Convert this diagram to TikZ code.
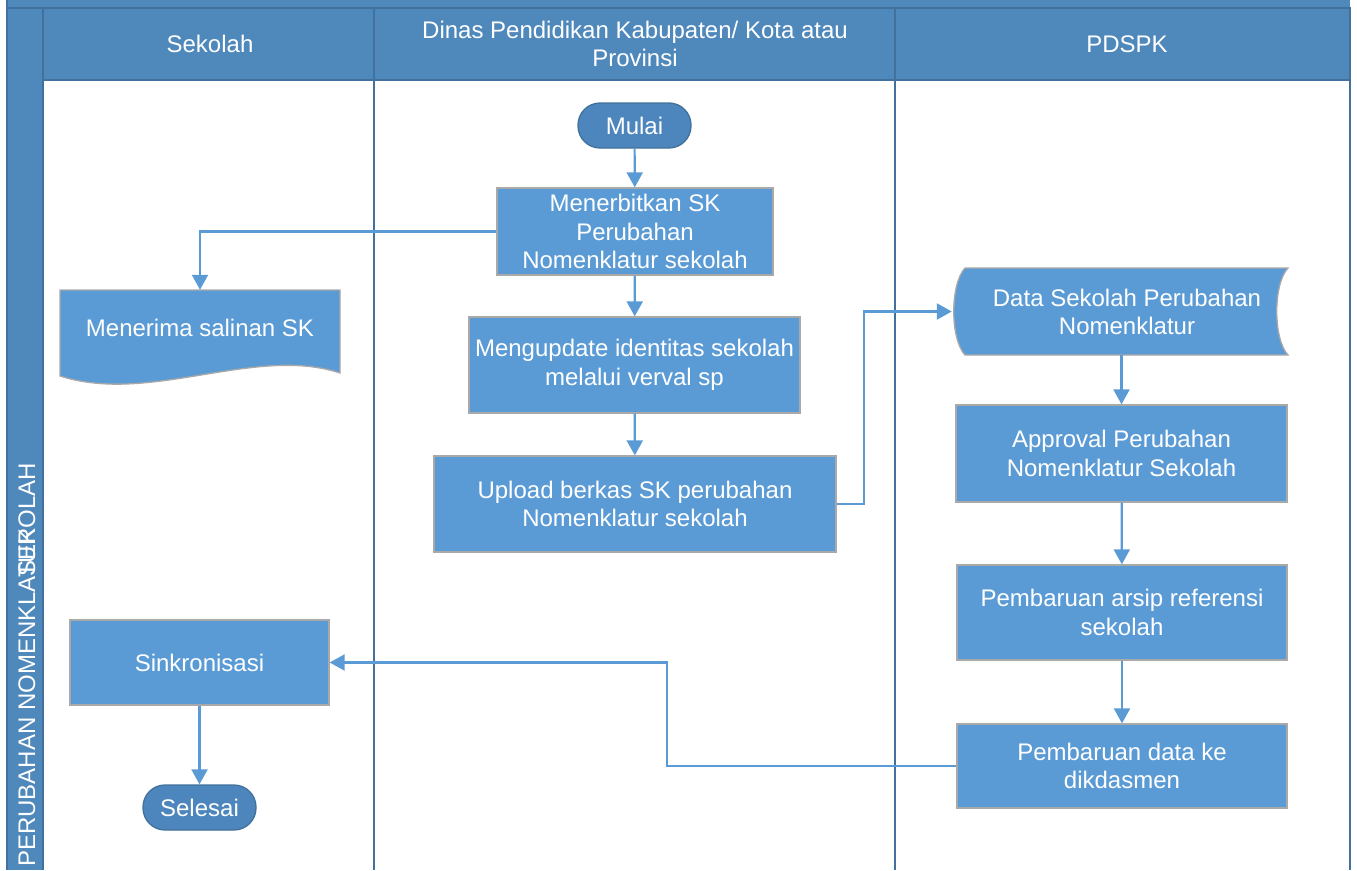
\documentclass[tikz,border=0pt]{standalone}
\usepackage{fontspec}
\setmainfont{Liberation Sans}
\usetikzlibrary{arrows.meta,calc}

\definecolor{hdr}{HTML}{4F88BB}
\definecolor{laneline}{HTML}{41719C}
\definecolor{boxfill}{HTML}{5B9BD5}
\definecolor{boxedge}{HTML}{A9A9A9}
\definecolor{termfill}{HTML}{4D86BD}
\definecolor{flow}{HTML}{5B9BD5}

\tikzset{
  txt/.style={font=\fontsize{24}{28.5}\selectfont, text=white, align=center},
  stepbox/.style={txt, draw=boxedge, line width=1.3pt, fill=boxfill, inner sep=0pt},
  term/.style={txt, draw=laneline, line width=1.3pt, fill=termfill, rounded corners=22pt,
    minimum width=113, minimum height=45, inner sep=0pt},
  shapebox/.style={draw=boxedge, line width=1.3pt, fill=boxfill},
  frame/.style={inner sep=0pt, minimum width=#1},
  lane/.style={draw=laneline, line width=2pt},
  conn/.style={draw=flow, line width=2.2pt, -{Triangle[length=15pt,width=16pt]}},
}

\begin{document}
\begin{tikzpicture}[x=1pt, y=-1pt]
\useasboundingbox (0,0) rectangle (1357,870);

% pool frame: top strip, left title strip, lane headers
\fill[hdr] (7,0) rectangle (1350,8);
\fill[hdr] (7,0) rectangle (43,870);
\draw[laneline, line width=1.5pt, fill=hdr] (43,8) rectangle (1350,80);
\draw[laneline, line width=1.2pt] (7,0) -- (7,870);
\draw[laneline, line width=1.2pt] (7,8) -- (1350,8);

% lane separators
\draw[lane] (43,8) -- (43,870);
\draw[lane] (374,8) -- (374,870);
\draw[lane] (895,8) -- (895,870);
\draw[lane] (1350,8) -- (1350,870);

% lane titles
\node[txt] (hsekolah) at (210,44) {Sekolah};
\node[txt] (hdinas) at (635,44) {Dinas Pendidikan Kabupaten/ Kota atau\\Provinsi};
\node[txt] (hpdspk) at (1127,44) {PDSPK};

% pool title (two overlapping runs)
\node[txt, rotate=90, anchor=base west, inner sep=0pt] (ptitle1) at (35,867) {PERUBAHAN NOMENKLATUR};
\node[txt, rotate=90, anchor=base east, inner sep=0pt] (ptitle2) at (35,463) {SEKOLAH};

% Dinas lane
\node[term] (mulai) at (634.5,125.5) {Mulai};
\node[stepbox, minimum width=276, minimum height=87] (terbit) at (635,231.5)
  {Menerbitkan SK\\Perubahan\\Nomenklatur sekolah};
\node[stepbox, minimum width=331, minimum height=96] (update) at (634.5,365)
  {Mengupdate identitas sekolah\\melalui verval sp};
\node[stepbox, minimum width=402, minimum height=96] (upload) at (635,504)
  {Upload berkas SK perubahan\\Nomenklatur sekolah};

% Sekolah lane: document shape
\draw[shapebox] (60,290) -- (340,290) -- (340,373)
  .. controls (255,345) and (150,405) .. (60,376) -- cycle;
\node[frame=280, minimum height=95] (terima) at (200,337.5) {};
\node[txt] (terimatext) at (200,328) {Menerima salinan SK};
\node[stepbox, minimum width=259, minimum height=85] (sinkron) at (199.5,662.5) {Sinkronisasi};
\node[term] (selesai) at (199.5,807.5) {Selesai};

% PDSPK lane: stored data shape
\draw[shapebox] (965,268) -- (1288,268)
  .. controls (1273,284) and (1273,339) .. (1288,355) -- (965,355)
  .. controls (950,339) and (950,284) .. (965,268) -- cycle;
\node[frame=336, minimum height=87] (data) at (1120,311.5) {};
\node[txt] (datatext) at (1127,312) {Data Sekolah Perubahan\\Nomenklatur};
\node[stepbox, minimum width=331, minimum height=97] (approval) at (1121.5,453.5)
  {Approval Perubahan\\Nomenklatur Sekolah};
\node[stepbox, minimum width=330, minimum height=95] (arsip) at (1122,612.5)
  {Pembaruan arsip referensi\\sekolah};
\node[stepbox, minimum width=330, minimum height=84] (kirim) at (1122,766)
  {Pembaruan data ke\\dikdasmen};

% connectors
\draw[conn] (mulai) -- (terbit);
\draw[conn] (terbit) -- (update);
\draw[conn] (update) -- (upload);
\draw[conn] (terbit.west) -| (terima.north);
\draw[conn] (upload.east) -- ++(27,0) |- (data.west);
\draw[conn] (approval.north |- data.south) -- (approval.north);
\draw[conn] (approval) -- (arsip);
\draw[conn] (arsip) -- (kirim);
\draw[conn] (kirim.west) -- ++(-289,0) |- (sinkron.east);
\draw[conn] (sinkron) -- (selesai);
\end{tikzpicture}
\end{document}
